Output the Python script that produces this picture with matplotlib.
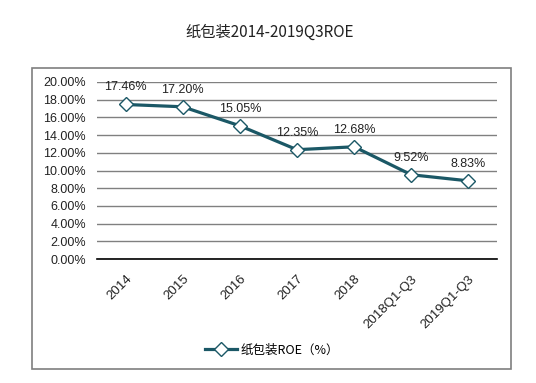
import numpy as np
import matplotlib.pyplot as plt
from matplotlib.patches import Rectangle

plt.rcParams['font.family'] = ['Liberation Sans', 'Noto Sans CJK SC', 'DejaVu Sans']

# datos
categorias = ["2014", "2015", "2016", "2017", "2018", "2018Q1-Q3", "2019Q1-Q3"]
roe = [17.46, 17.20, 15.05, 12.35, 12.68, 9.52, 8.83]
yticks = [0, 2, 4, 6, 8, 10, 12, 14, 16, 18, 20]

color = '#1b5866'

fig = plt.figure(figsize=(5.36, 3.83), dpi=100)
ax = fig.add_axes([97/536, 1-259/383, 400/536, 177/383])

x = np.arange(len(categorias))
ax.plot(x, roe, color=color, lw=2.3, marker='D', ms=7, mfc='white',
        mec=color, mew=1.0, label='纸包装ROE（%）', zorder=3)

for xi, v in zip(x, roe):
    ax.annotate("{:.2f}%".format(v), (xi, v), xytext=(0, 8), textcoords='offset points',
                ha='center', va='bottom', fontsize=9, color='#222222')

ax.set_xlim(-0.5, 6.5)
ax.set_ylim(0, 20)
ax.set_yticks(yticks)
ax.set_yticklabels(["{:.2f}%".format(t) for t in yticks], fontsize=9, color='#222222')
ax.set_xticks(x)
ax.set_xticklabels(categorias, rotation=45, ha='right', rotation_mode='anchor',
                   fontsize=9.5, color='#222222')
ax.tick_params(axis='both', length=0, pad=8)
ax.tick_params(axis='x', pad=10)
ax.yaxis.grid(True, color='#808080', lw=1)
ax.set_axisbelow(True)
for s in ['top', 'right', 'left']:
    ax.spines[s].set_visible(False)
ax.spines['bottom'].set_color('black')
ax.spines['bottom'].set_linewidth(1.2)

fig.text(270/536, 1-32/383, "纸包装2014-2019Q3ROE", ha='center', va='center',
         fontsize=11, color='#222222', family=['Noto Sans CJK SC', 'DejaVu Sans'])

leg = fig.legend(loc='center', bbox_to_anchor=(272/536, 1-350/383), frameon=False,
                 prop={'family': ['Noto Sans CJK SC', 'DejaVu Sans'], 'size': 9},
                 handlelength=2.6, handletextpad=0.3)

# borde del area del grafico
fig.patches.append(Rectangle((31.5/536, 1-369/383), 479.5/536, 301/383,
                             transform=fig.transFigure, fill=False,
                             edgecolor='#7f7f7f', lw=1.2))

fig.savefig("out.png", dpi=100)
